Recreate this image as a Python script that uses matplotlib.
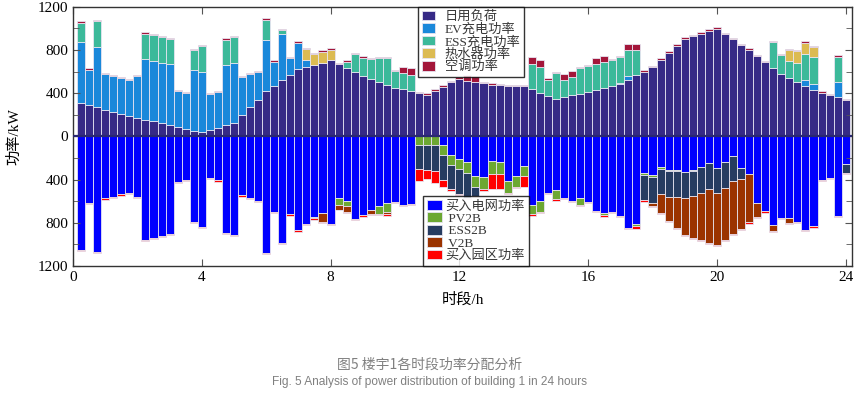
import matplotlib
matplotlib.use('Agg')
import matplotlib.pyplot as plt
from matplotlib.ticker import MultipleLocator, FuncFormatter
import numpy as np

plt.rcParams['font.family'] = ['Liberation Serif', 'Noto Sans CJK SC']

# 96 time slots (15 min) -- upper part: load side
daily = [312, 293, 269, 244, 225, 207, 188, 170, 151, 139, 120, 102, 86, 68, 52, 37,
         56, 74, 102, 123, 198, 269, 340, 417, 469, 519, 571, 624, 642, 661, 682, 707,
         670, 633, 596, 562, 534, 506, 478, 451, 438, 417, 404, 386, 423, 460, 500, 534,
         516, 503, 494, 478, 472, 466, 463, 466, 435, 401, 377, 343, 361, 380, 395, 411,
         429, 448, 466, 485, 522, 565, 596, 642, 707, 772, 834, 901, 926, 948, 975, 994,
         945, 901, 846, 800, 744, 685, 633, 574, 540, 500, 466, 426, 401, 383, 361, 336]
ev = [562, 324, 558, 333, 337, 336, 337, 392, 565, 559, 559, 565, 337, 336, 559, 559,
      336, 336, 556, 556, 348, 305, 253, 472, 219, 429, 154, 243, 62, 0, 0, 0,
      0, 0, 0, 0, 0, 0, 0, 0, 0, 0, 0, 0, 0, 0, 0, 0,
      0, 0, 0, 0, 0, 0, 0, 0, 0, 0, 0, 0, 0, 0, 0, 0,
      0, 0, 0, 9, 37, 0, 0, 0, 0, 0, 0, 0, 0, 0, 0, 0,
      0, 0, 0, 0, 0, 0, 0, 0, 0, 0, 59, 62, 0, 0, 139, 0]
ess_ch = [179, 0, 244, 0, 0, 0, 0, 0, 235, 244, 244, 237, 0, 0, 185, 244,
          0, 0, 237, 241, 0, 0, 0, 191, 0, 34, 0, 0, 0, 0, 0, 0,
          0, 55, 163, 167, 179, 216, 244, 151, 149, 154, 0, 0, 0, 0, 0, 0,
          0, 0, 0, 0, 0, 0, 0, 0, 238, 244, 145, 244, 158, 166, 238, 237,
          238, 237, 238, 241, 237, 235, 0, 0, 0, 0, 0, 0, 0, 0, 0, 0,
          0, 0, 0, 0, 0, 0, 241, 176, 155, 182, 241, 244, 0, 0, 235, 0]
heater = [0] * 28 + [102, 101, 102, 96] + [0] * 56 + [101, 108, 101, 98] + [0] * 4
aircon = [15, 16, 8, 9, 8, 9, 8, 8, 15, 8, 8, 9, 8, 8, 12, 8,
          9, 9, 12, 8, 12, 12, 15, 13, 16, 9, 10, 13, 9, 13, 12, 12,
          12, 16, 10, 12, 9, 10, 10, 9, 58, 59, 10, 12, 12, 12, 12, 15,
          55, 56, 12, 13, 13, 12, 12, 9, 59, 59, 15, 12, 58, 59, 12, 10,
          62, 59, 12, 9, 59, 55, 15, 9, 15, 15, 18, 16, 16, 15, 16, 15,
          15, 10, 12, 15, 9, 10, 9, 12, 13, 10, 13, 10, 16, 12, 15, 7]

# lower part: supply side
grid = [1047, 614, 1065, 574, 556, 537, 519, 556, 954, 938, 920, 901, 423, 401, 790, 834,
        386, 407, 892, 914, 546, 571, 593, 1077, 695, 982, 722, 870, 809, 747, 713, 809,
        574, 593, 762, 729, 679, 648, 620, 605, 636, 624, 0, 0, 0, 83, 173, 207,
        238, 364, 380, 228, 238, 414, 367, 272, 630, 602, 525, 500, 568, 593, 568, 608,
        688, 713, 695, 732, 843, 809, 343, 361, 281, 312, 312, 327, 312, 281, 250, 290,
        238, 185, 290, 346, 614, 691, 815, 753, 753, 790, 867, 830, 407, 383, 738, 259]
pv2b = [0] * 29 + [10, 0, 0, 56, 55, 0, 0, 0, 68, 75, 0, 0, 0, 80, 83, 83, 93, 95, 99,
        105, 108, 111, 118, 114, 108, 99, 92, 92, 96, 0, 80, 0, 0, 62, 0,
        0, 16, 0, 0, 0, 24, 12, 19, 19, 12, 12, 0, 9, 0, 0, 0] + [0] * 16
ess2b = [0] * 42 + [226, 228, 234, 231, 223, 225, 231, 77] + [0] * 20 + \
        [232, 234, 231, 232, 232, 241, 228, 241, 238, 238, 237, 232, 105] + [0] * 12 + [77]
v2b = [0] * 30 + [80, 0, 49, 50, 0, 0, 37, 0, 27] + [0] * 32 + \
      [31, 182, 222, 290, 346, 389, 435, 494, 475, 482, 487, 460, 447, 133, 0, 62, 0, 46] + [0] * 7
park = [15, 13, 12, 12, 12, 12, 12, 12, 12, 12, 12, 12, 10, 12, 12, 12,
        12, 12, 12, 12, 12, 12, 12, 10, 12, 12, 12, 12, 12, 12, 9, 12,
        6, 9, 12, 12, 13, 13, 10, 12, 12, 12, 108, 81, 115, 59, 15, 12,
        5, 16, 15, 142, 133, 12, 12, 105, 16, 12, 12, 16, 12, 15, 15, 5,
        9, 12, 15, 12, 15, 28, 21, 9, 9, 12, 9, 9, 10, 9, 9, 10,
        12, 10, 9, 16, 9, 13, 9, 13, 10, 13, 10, 13, 10, 12, 9, 13]

up_labels = ['日用负荷', 'EV充电功率', 'ESS充电功率', '热水器功率', '空调功率']
up_colors = ['#362a86', '#1a88da', '#3cb99a', '#dcbb52', '#a3163a']
dn_labels = ['买入电网功率', ' PV2B', ' ESS2B', ' V2B', '买入园区功率']
dn_colors = ['#0000ff', '#6ca832', '#263c61', '#9b3300', '#ff0000']

t = np.arange(1, 97) / 4.0

fig = plt.figure(figsize=(8.59, 3.96), dpi=100)
ax = fig.add_axes([0.085, 0.328, 0.907, 0.655])

w = 0.25
ekw = dict(edgecolor='#e6e4f0', linewidth=0.6)
up_handles = []
base = np.zeros(96)
for vals, c, lab in zip([daily, ev, ess_ch, heater, aircon], up_colors, up_labels):
    v = np.array(vals, dtype=float)
    h = ax.bar(t, v, w, bottom=base, color=c, label=lab, **ekw)
    up_handles.append(h)
    base += v

dn_handles = []
base = np.zeros(96)
for vals, c, lab in zip([grid, pv2b, ess2b, v2b, park], dn_colors, dn_labels):
    v = np.array(vals, dtype=float)
    h = ax.bar(t, -v, w, bottom=-base, color=c, label=lab, **ekw)
    dn_handles.append(h)
    base += v

ax.axhline(0, color='#2a2870', lw=1.6, zorder=3)

ax.set_xlim(0, 24.2)
ax.set_ylim(-1200, 1200)
ax.xaxis.set_major_locator(MultipleLocator(4))
ax.yaxis.set_major_locator(MultipleLocator(400))
ax.yaxis.set_minor_locator(MultipleLocator(200))
ax.yaxis.set_major_formatter(FuncFormatter(lambda v, p: f'{abs(int(v))}'))
ax.tick_params(which='both', direction='in', top=True, right=True, labelsize=11,
               color='#555555')
ax.tick_params(which='major', length=5)
ax.tick_params(which='minor', length=4)
for s in ax.spines.values():
    s.set_linewidth(1.0)
    s.set_color('#333333')

ax.set_xlabel('时段/h', fontsize=11, labelpad=6)
ax.set_ylabel('功率/kW', fontsize=11, labelpad=12)

lkw = dict(fontsize=9.5, frameon=True, fancybox=False, edgecolor='black',
           handlelength=1.0, handleheight=0.75, handletextpad=0.7, labelspacing=0.0,
           borderpad=0.3, borderaxespad=0, labelcolor='#383838')
leg1 = ax.legend(up_handles, up_labels, loc='upper left', bbox_to_anchor=(0.443, 1.0), **lkw)
leg1.get_frame().set_linewidth(1.0)
ax.add_artist(leg1)
lkw['handlelength'] = 1.15
lkw['handletextpad'] = 0.25
leg2 = ax.legend(dn_handles, dn_labels, loc='lower left', bbox_to_anchor=(0.449, 0.0), **lkw)
leg2.get_frame().set_linewidth(1.0)

fig.text(0.5, 1 - 365 / 396, '图5 楼宇1各时段功率分配分析', ha='center', va='center',
         fontsize=10, color='#808080', family=['Noto Sans CJK SC'])
fig.text(0.5, 1 - 382 / 396, 'Fig. 5 Analysis of power distribution of building 1 in 24 hours',
         ha='center', va='center', fontsize=8.6, color='#808080', family=['Liberation Sans'])

fig.savefig('out.png', dpi=100)
